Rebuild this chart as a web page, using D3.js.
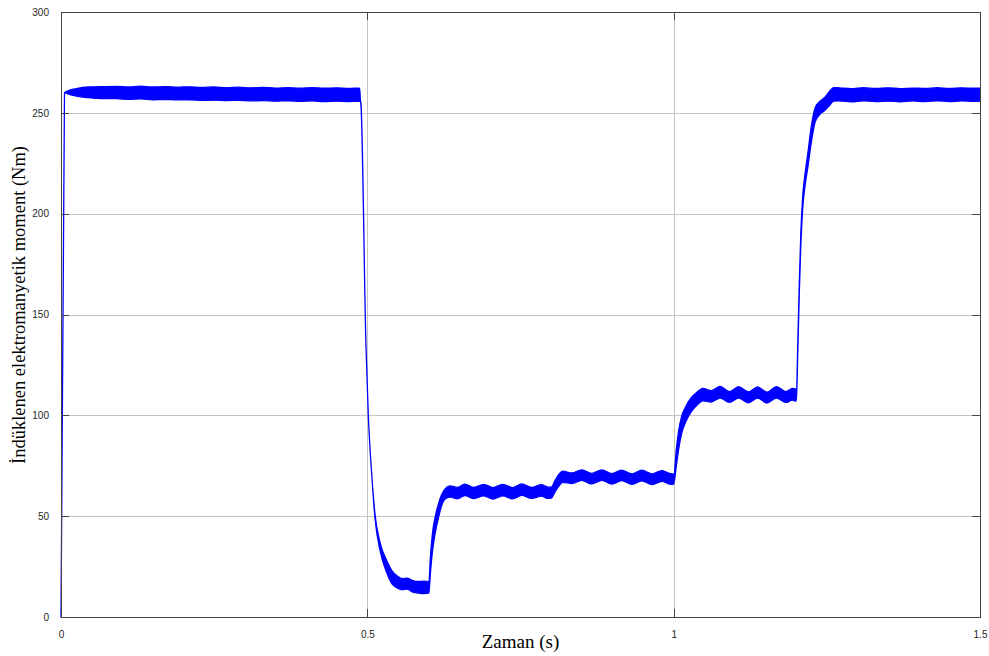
<!DOCTYPE html>
<html>
<head>
<meta charset="utf-8">
<script src="https://cdn.jsdelivr.net/npm/d3@7"></script>
<style>
  html, body { margin: 0; padding: 0; background: #ffffff; }
  svg { display: block; }
</style>
</head>
<body>
<svg id="chart" width="989" height="656"></svg>
<script>
// Induced electromagnetic torque: ripple band given by its upper / lower envelope
const timeS = [
  0, 0.0057, 0.012, 0.025, 0.045, 0.07,
  0.09, 0.11, 0.13, 0.15, 0.17, 0.19, 0.21, 0.23, 0.25, 0.27, 0.29, 0.31, 0.33, 0.35,
  0.37, 0.39, 0.41, 0.43, 0.45, 0.47, 0.4875,
  0.4888, 0.4895, 0.4978, 0.5016, 0.5071, 0.5125, 0.5207, 0.5316, 0.540, 0.548, 0.5566,
  0.565, 0.573, 0.583, 0.5925, 0.6005,
  0.603, 0.6065, 0.611, 0.616, 0.621, 0.627, 0.635,
  0.647, 0.659, 0.674, 0.690, 0.705, 0.721, 0.737, 0.752, 0.768, 0.784, 0.795, 0.8005,
  0.806, 0.812, 0.819, 0.834, 0.850, 0.866, 0.883, 0.899, 0.915, 0.932, 0.948, 0.965, 0.981, 0.993, 0.9995,
  1.0005, 1.004, 1.008, 1.013, 1.020, 1.028, 1.038, 1.048,
  1.061, 1.076, 1.091, 1.106, 1.122, 1.137, 1.152, 1.168, 1.183, 1.194, 1.1995,
  1.2005, 1.2025, 1.205, 1.2075, 1.2105, 1.2145, 1.219, 1.2245, 1.231, 1.238, 1.246, 1.254, 1.261,
  1.27, 1.29, 1.31, 1.33, 1.35, 1.37, 1.39, 1.41, 1.43, 1.45, 1.47, 1.49, 1.5
];
const upperNm = [
  0, 260, 261, 262, 262.8, 263,
  263.1, 262.8, 263.2, 262.8, 263.0, 262.7, 262.9, 262.6, 262.8, 262.5, 262.7, 262.4, 262.6, 262.3,
  262.5, 262.2, 262.5, 262.2, 262.4, 262.1, 262.3,
  256, 255, 134, 100, 71, 51, 37, 28, 23, 20.5, 19,
  19.3, 18.2, 17.6, 17.8, 17.5,
  30, 42, 50, 56, 60.5, 63.5, 65,
  64.3, 65.9, 64.3, 65.8, 64.2, 65.8, 64.2, 66.0, 64.3, 65.6, 64.4, 64.5,
  67.5, 70.5, 72.3, 71.4, 73.0, 71.2, 72.9, 71.1, 72.8, 71.0, 72.8, 71.0, 72.6, 71.2, 70.8,
  70, 82, 92, 99.5, 104.5, 108.5, 111.5, 113.3,
  112.2, 114.3, 111.7, 114.2, 111.6, 114.1, 111.5, 114.2, 111.8, 113.3, 113,
  112, 135, 165, 190, 208, 220, 230, 243, 252.5, 255.5, 257.5, 260.5, 262.5,
  262.4, 262.0, 262.5, 262.1, 262.4, 262.0, 262.3, 262.1, 262.5, 262.1, 262.4, 262.2, 262.3
];
const lowerNm = [
  0, 260, 259.3, 258.3, 257.5, 257,
  257.0, 256.7, 256.9, 256.5, 256.6, 256.4, 256.5, 256.2, 256.3, 256.1, 256.2, 255.9, 256.1, 255.8,
  256.0, 255.7, 255.9, 255.6, 255.8, 255.6, 255.7,
  255.5, 254, 134, 100, 71, 49, 33, 22, 16.5, 14.5, 13.5,
  13.8, 12.5, 11.9, 11.6, 11.8,
  22, 33, 42, 49, 55, 58.5, 59.5,
  58.6, 60.2, 58.7, 60.1, 58.5, 60.1, 58.6, 60.3, 58.8, 59.9, 58.8, 59.0,
  61.8, 64.6, 66.8, 66.2, 67.8, 66.0, 67.7, 65.9, 67.6, 65.8, 67.5, 65.7, 67.3, 65.9, 65.8,
  66.5, 74, 83, 91, 97, 101.5, 105, 107.2,
  106.6, 108.6, 106.4, 108.5, 106.2, 108.5, 106.1, 108.6, 106.4, 107.5, 107,
  109, 130, 160, 184, 202, 214, 223, 235, 245.5, 249, 251, 253.5, 255.8,
  255.9, 255.5, 256.0, 255.6, 255.8, 255.5, 255.9, 255.6, 256.0, 255.6, 255.9, 255.7, 255.8
];

const xTicks = [0, 0.5, 1, 1.5];
const xTickLabels = ["0", "0.5", "1", "1.5"];
const yTicks = [0, 50, 100, 150, 200, 250, 300];
const yTickLabels = ["0", "50", "100", "150", "200", "250", "300"];

const xTitle = "Zaman (s)";
const yTitle = "İndüklenen elektromanyetik moment (Nm)";

const svg = d3.select("#chart");
const plotLeft = 61, plotRight = 980, plotTop = 12, plotBottom = 617;

const x = d3.scaleLinear().domain([0, 1.5]).range([plotLeft, plotRight]);
const y = d3.scaleLinear().domain([0, 300]).range([plotBottom, plotTop]);

// grid
const grid = svg.append("g").attr("stroke", "#c4c4c4").attr("stroke-width", 1).attr("shape-rendering", "crispEdges");
grid.selectAll("line.gx").data(xTicks.slice(1, -1)).enter().append("line")
  .attr("x1", d => Math.round(x(d)) + 0.5).attr("x2", d => Math.round(x(d)) + 0.5)
  .attr("y1", plotTop).attr("y2", plotBottom);
grid.selectAll("line.gy").data(yTicks.slice(1, -1)).enter().append("line")
  .attr("y1", d => Math.round(y(d)) + 0.5).attr("y2", d => Math.round(y(d)) + 0.5)
  .attr("x1", plotLeft).attr("x2", plotRight);

// torque band
const pts = timeS.map((t, i) => ({ t, hi: upperNm[i], lo: lowerNm[i] }));
const band = d3.area()
  .curve(d3.curveMonotoneX)
  .x(d => x(d.t))
  .y0(d => y(d.lo))
  .y1(d => y(d.hi));
svg.append("path")
  .datum(pts)
  .attr("d", band)
  .attr("fill", "#0000ff")
  .attr("stroke", "#0000ff")
  .attr("stroke-width", 1.3)
  .attr("stroke-linejoin", "round");

// axes with inward ticks
const axisColor = "#444444";
const fontTick = "'Liberation Sans', Arial, sans-serif";

const gx = svg.append("g").attr("transform", `translate(0,${plotBottom})`)
  .call(d3.axisBottom(x).tickValues(xTicks).tickFormat((d, i) => xTickLabels[i])
    .tickSizeInner(-8).tickSizeOuter(0).tickPadding(14));
const gxTop = svg.append("g").attr("transform", `translate(0,${plotTop})`)
  .call(d3.axisTop(x).tickValues(xTicks).tickFormat("").tickSizeInner(-8).tickSizeOuter(0));
const gy = svg.append("g").attr("transform", `translate(${plotLeft},0)`)
  .call(d3.axisLeft(y).tickValues(yTicks).tickFormat((d, i) => yTickLabels[i])
    .tickSizeInner(-8).tickSizeOuter(0).tickPadding(12));
const gyRight = svg.append("g").attr("transform", `translate(${plotRight},0)`)
  .call(d3.axisRight(y).tickValues(yTicks).tickFormat("").tickSizeInner(-8).tickSizeOuter(0));

[gx, gxTop, gy, gyRight].forEach(g => {
  g.select(".domain").attr("stroke", axisColor).attr("stroke-width", 1).attr("shape-rendering", "crispEdges");
  g.selectAll(".tick line").attr("stroke", axisColor).attr("shape-rendering", "crispEdges");
  g.selectAll(".tick text").attr("fill", "#262626").attr("font-family", fontTick).attr("font-size", 10);
});

// axis titles
svg.append("text")
  .attr("x", (plotLeft + plotRight) / 2)
  .attr("y", 648)
  .attr("text-anchor", "middle")
  .attr("font-family", "'Liberation Serif', 'Times New Roman', serif")
  .attr("font-size", 19)
  .attr("fill", "#000")
  .text(xTitle);

svg.append("text")
  .attr("transform", `translate(25,${305}) rotate(-90)`)
  .attr("text-anchor", "middle")
  .attr("font-family", "'Liberation Serif', 'Times New Roman', serif")
  .attr("font-size", 18.5)
  .attr("fill", "#000")
  .text(yTitle);
</script>
</body>
</html>
